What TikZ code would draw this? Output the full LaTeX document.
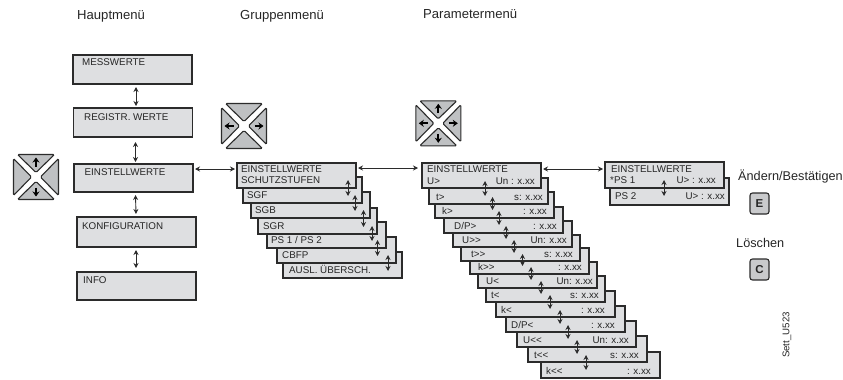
\documentclass[tikz,border=0pt]{standalone}
\usepackage{fontspec}
\usepackage{tikz}
\usetikzlibrary{arrows.meta, positioning, calc}
\newfontfamily\labelfont{Liberation Sans}
\definecolor{menufill}{HTML}{DEDFE1}
\definecolor{menuedge}{HTML}{2B2B2B}
\definecolor{keyfill}{HTML}{BFC1C3}
\definecolor{textgray}{HTML}{262626}

\begin{document}
\begin{tikzpicture}[
  x=1pt, y=-1pt,
  every node/.style={font=\labelfont, text=textgray},
  menubox/.style={rectangle, draw=menuedge, fill=menufill, line width=1.2pt, minimum width=119pt, minimum height=#1, anchor=north west, inner sep=0pt, outer sep=0pt},
  boxtext/.style={font=\labelfont\fontsize{9.8}{11}\selectfont, inner sep=0pt, text height=7pt, text depth=0pt},
  headtext/.style={font=\labelfont\fontsize{13.1}{15}\selectfont, inner sep=0pt, anchor=west},
  keytext/.style={font=\labelfont\fontsize{12.7}{15}\selectfont, inner sep=0pt, anchor=west},
  updown/.style={{Stealth[length=5pt,width=5pt]}-{Stealth[length=5pt,width=5pt]}, draw=menuedge, line width=0.9pt},
  keytri/.style={draw=menuedge, fill=keyfill, line width=1.1pt, rounded corners=1.2pt, line join=round},
  keyarrow/.style={-{Stealth[length=5pt,width=7pt]}, draw=black, line width=2pt},
  keybutton/.style={rectangle, rounded corners=2.5pt, draw=menuedge, fill=keyfill!85!white, line width=1.1pt, minimum width=19pt, minimum height=21pt, inner sep=0pt, font=\labelfont\bfseries\fontsize{11.5}{13}\selectfont},
]
\useasboundingbox (0,0) rectangle (843,380);

% Column titles
\node[headtext] (hauptitel) at (77,16) {Hauptmenü};
\node[headtext] (gruppetitel) at (240,16) {Gruppenmenü};
\node[headtext] (paramtitel) at (423,14) {Parametermenü};

% Key pads
\foreach \cx/\cy in {36/177, 244/126, 438.3/123.3} {
  \foreach \ang in {0,90,180,270} {
    \draw[keytri, shift={(\cx,\cy)}, rotate=\ang] (-18.5,-22.5) -- (18.5,-22.5) -- (0,-4.5) -- cycle;
  }
}
\foreach \cx/\cy/\ang in {36/177/0, 36/177/180, 244/126/90, 244/126/270, 438.3/123.3/0, 438.3/123.3/90, 438.3/123.3/180, 438.3/123.3/270} {
  \draw[keyarrow, shift={(\cx,\cy)}, rotate=\ang] (0,-10.5) -- (0,-19.5);
}

% Main menu
\node[menubox=29pt] (mess) at (73,55) {};
\node[menubox=29pt] (regist) at (73.5,108) {};
\node[menubox=28pt] (einst) at (74,164) {};
\node[menubox=30pt] (konf) at (77,217) {};
\node[menubox=28pt] (info) at (77,272) {};

\node[boxtext, anchor=west] (messtxt) at (82,62) {MESSWERTE};
\node[boxtext, anchor=west] (registtxt) at (84,117) {REGISTR. WERTE};
\node[boxtext, anchor=west] (einsttxt) at (84.5,172) {EINSTELLWERTE};
\node[boxtext, anchor=west] (konftxt) at (82,226) {KONFIGURATION};
\node[boxtext, anchor=west] (infotxt) at (83,280) {INFO};

\draw[updown] ([shift={(3.5,3)}]mess.south) -- ([shift={(3,-2)}]regist.north);
\draw[updown] ([shift={(2.5,5)}]regist.south) -- ([shift={(2,-2)}]einst.north);
\draw[updown] ([shift={(2,3)}]einst.south) -- ([shift={(-0.5,-3)}]konf.north);
\draw[updown] ([shift={(-0.5,3)}]konf.south) -- ([shift={(-0.5,-4)}]info.north);

% Group menu (back to front)
\foreach \n/\bx/\by/\lx/\lbl in {7/283/252/6/{AUSL. ÜBERSCH.}, 6/277/237/5/CBFP, 5/267/222/4/{PS 1 / PS 2}, 4/258/208/5/SGR, 3/251/192/4/SGB, 2/243/177/4/SGF} {
  \node[menubox=26pt] (g\n) at (\bx,\by) {};
  \node[boxtext, anchor=west] (gt\n) at ([shift={(\lx,-8)}]g\n.south west) {\lbl};
}
\node[menubox=25pt] (g1) at (237,163) {};
\node[boxtext, anchor=west] (gt1a) at (241,168.5) {EINSTELLWERTE};
\node[boxtext, anchor=west] (gt1b) at (241,180) {SCHUTZSTUFEN};

\foreach \a/\b/\dx in {1/2/51.5, 2/3/52.5, 3/4/53, 4/5/54.5, 5/6/51, 6/7/51.5} {
  \draw[updown] ([xshift=\dx pt,yshift=8pt]g\a.south) -- ([xshift=\dx pt,yshift=7pt]g\a.south |- g\b.south);
}

% Parameter menu (back to front)
\foreach \n/\bx/\by/\lx/\rx/\lbl/\val in {
  14/541/352/5/9/k<</{: x.xx}, 13/528/336/6/8/t<</{s: x.xx}, 12/517/321/6/7/U<</{Un: x.xx},
  11/506/306/5/10/{D/P<}/{: x.xx}, 10/496/291/5/10/k</{: x.xx}, 9/486/276/5/6/t</{s: x.xx},
  8/478/262/8/4/U</{Un: x.xx}, 7/470/248/8/7/k>>/{: x.xx}, 6/461/235/10/7/t>>/{s: x.xx},
  5/453/221/9/5/U>>/{Un: x.xx}, 4/444/207/10/6/{D/P>}/{: x.xx}, 3/435/192/7/7/k>/{: x.xx},
  2/429/178/7/5/t>/{s: x.xx}} {
  \node[menubox=26pt] (p\n) at (\bx,\by) {};
  \node[boxtext, anchor=west] (pl\n) at ([shift={(\lx,-7)}]p\n.south west) {\lbl};
  \node[boxtext, anchor=east] (pv\n) at ([shift={(-\rx,-7)}]p\n.south east) {\val};
}
\node[menubox=25pt] (p1) at (422,163) {};
\node[boxtext, anchor=west] (pl1a) at (427,168.5) {EINSTELLWERTE};
\node[boxtext, anchor=west] (pl1) at (427,181) {U>};
\node[boxtext, anchor=east] (pv1) at (535,181) {Un : x.xx};

\foreach \a/\b/\dx in {1/2/3.5, 2/3/4, 3/4/4.5, 4/5/2.5, 5/6/1.5, 6/7/2, 7/8/1.5, 8/9/3.5, 9/10/4.5, 10/11/4.5, 11/12/2.5, 12/13/0.5, 13/14/-1.5} {
  \draw[updown] ([xshift=\dx pt,yshift=7pt]p\a.south) -- ([xshift=\dx pt,yshift=8pt]p\a.south |- p\b.south);
}

% Setting menu
\node[menubox=27pt] (s2) at (610,178) {};
\node[boxtext, anchor=west] (sl2) at (615,196) {PS 2};
\node[boxtext, anchor=east] (sv2) at (725,196) {U> : x.xx};
\node[menubox=26pt] (s1) at (605,162) {};
\node[boxtext, anchor=west] (sl1a) at (611,168.5) {EINSTELLWERTE};
\node[boxtext, anchor=west] (sl1) at (610,179.5) {*PS 1};
\node[boxtext, anchor=east] (sv1) at (716,179.5) {U> : x.xx};
\draw[updown] ([shift={(-0.5,-8)}]s1.south) -- ([shift={(-5.5,-9)}]s2.south);

% Links between the menus
\draw[updown] ([shift={(2,5)}]einst.north east) -- ([shift={(-2,6)}]g1.north west);
\draw[updown] ([shift={(2,5)}]g1.north east) -- ([shift={(-4,5)}]p1.north west);
\draw[updown] ([shift={(2,6)}]p1.north east) -- ([shift={(-2,7)}]s1.north west);

% Keys
\node[keytext] (aendern) at (738,177) {Ändern/Bestätigen};
\node[keybutton] (keye) at (759.5,203.5) {E};
\node[keytext] (loeschen) at (736,243) {Löschen};
\node[keybutton] (keyc) at (759.5,269.5) {C};

\node[font=\labelfont\fontsize{9.7}{11}\selectfont, inner sep=0pt, rotate=90] (settid) at (787,335) {Sett\_U523};

\end{tikzpicture}
\end{document}
